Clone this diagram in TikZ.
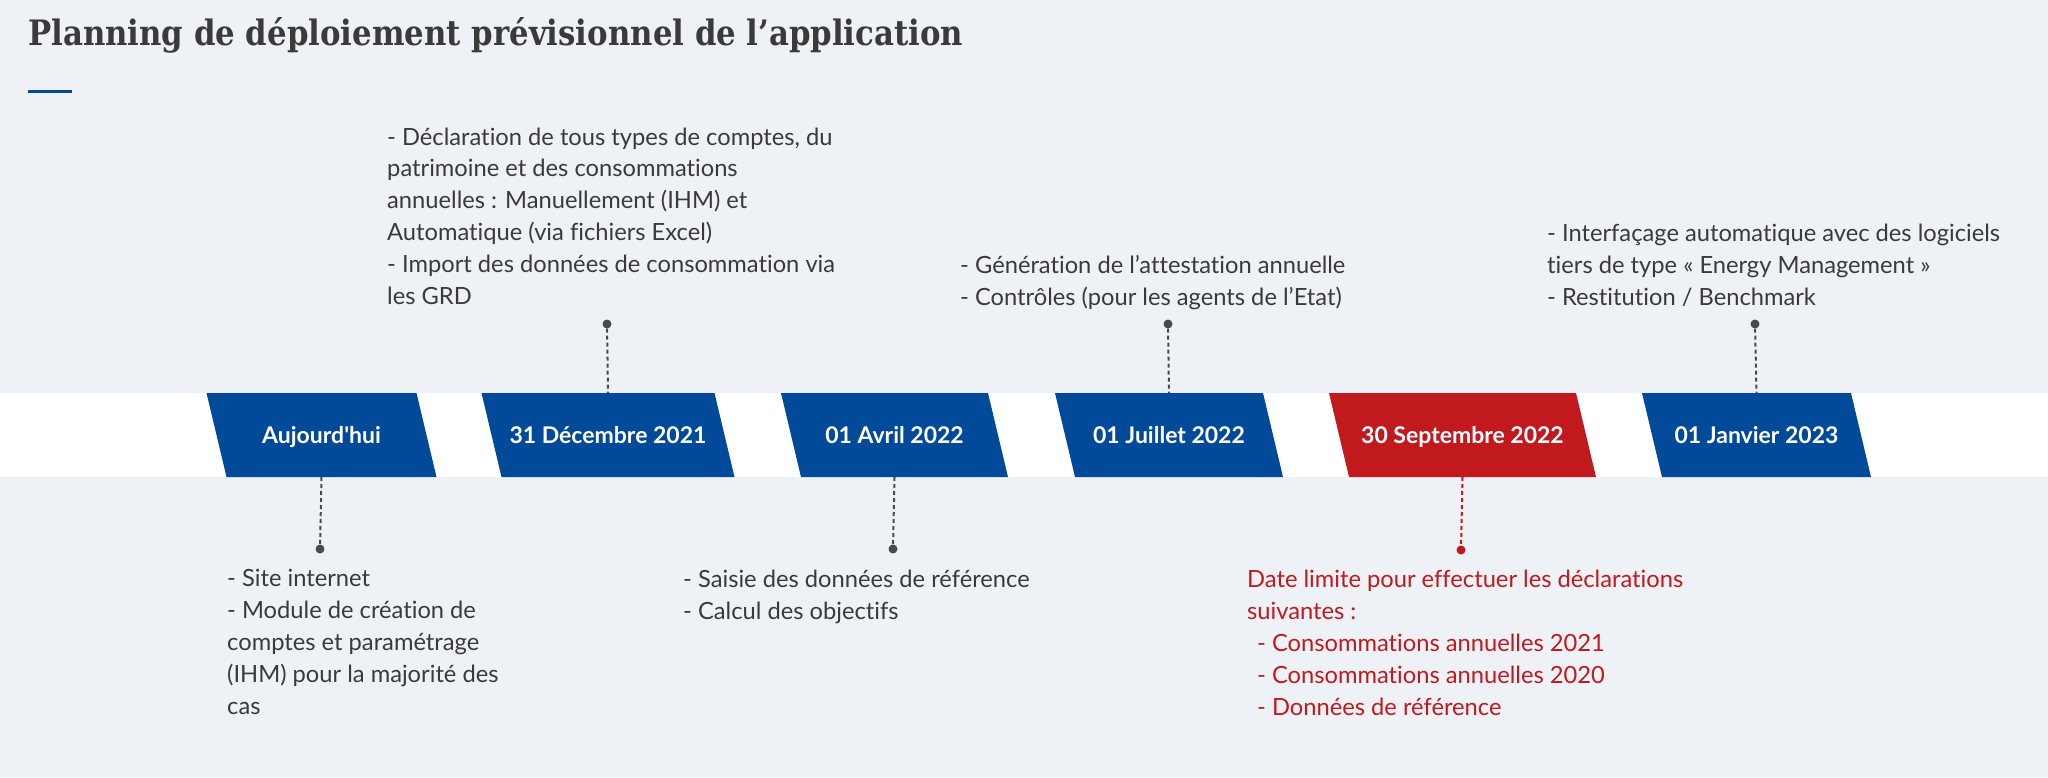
\documentclass[tikz,border=0pt]{standalone}
\usepackage{fontspec}
\setmainfont{Lato}[Ligatures=NoCommon]
\newfontfamily\titlefont[FakeStretch=0.88]{DejaVu Serif}
\definecolor{bgcol}{HTML}{EEF2F6}
\definecolor{fblue}{HTML}{004A99}
\definecolor{fred}{HTML}{C1191D}
\definecolor{tgray}{HTML}{3A3A3A}
\definecolor{dgray}{HTML}{4A4A4A}
\begin{document}
\begin{tikzpicture}[x=1pt,y=-1pt,
  txt/.style={font=\fontsize{23.7}{31.8}\selectfont, text=tgray, align=left, inner sep=0, anchor=base west},
  datelabel/.style={font=\fontsize{23}{28}\selectfont\bfseries, text=white, inner sep=0, anchor=base},
  dot/.style={circle, fill=dgray, inner sep=0, minimum size=9},
  conn/.style={dgray, line width=2, dash pattern=on 4 off 3}]
\useasboundingbox (0,0) rectangle (2048,777);
\fill[bgcol] (0,0) rectangle (2048,777);
\fill[white] (0,393) rectangle (2048,477);
% title
\node[anchor=base west, inner sep=0, text=tgray, font=\titlefont\fontsize{35}{40}\selectfont\bfseries] (title) at (28,45) {Planning de déploiement prévisionnel de l’application};
\draw[fblue, line width=3] (28,91) -- (72,91);
% milestones
\foreach \n/\cx/\w/\col/\lbl in {
  m1/321.5/210/fblue/Aujourd\textquotesingle hui,
  m2/608/233/fblue/31 Décembre 2021,
  m3/894.5/207/fblue/01 Avril 2022,
  m4/1169/208/fblue/01 Juillet 2022,
  m5/1462.5/247/fred/30 Septembre 2022,
  m6/1756.5/209/fblue/01 Janvier 2023}{
  \fill[\col] (\cx-\w/2-10,393) -- (\cx+\w/2-10,393) -- (\cx+\w/2+10,477) -- (\cx-\w/2+10,477) -- cycle;
  \node[datelabel] (\n) at (\cx,443) {\lbl};
  \coordinate (\n-t) at (\cx,393);
  \coordinate (\n-b) at (\cx,477);
}
% dots
\node[dot] (p1) at (320,549) {};
\node[dot] (p2) at (607,324) {};
\node[dot] (p3) at (893,549) {};
\node[dot] (p4) at (1168,324) {};
\node[dot, fill=fred] (p5) at (1461,550) {};
\node[dot] (p6) at (1755,324) {};
\draw[conn] (m1-b) -- (p1);
\draw[conn] (p2) -- (m2-t);
\draw[conn] (m3-b) -- (p3);
\draw[conn] (p4) -- (m4-t);
\draw[conn, fred] (m5-b) -- (p5);
\draw[conn] (p6) -- (m6-t);
% texts (anchored at the baseline of their last line)
\node[txt] (t2) at (387,304) {- Déclaration de tous types de comptes, du\\patrimoine et des consommations\\annuelles : Manuellement (IHM) et\\Automatique (via fichiers Excel)\\- Import des données de consommation via\\les GRD};
\node[txt] (t4) at (960,305) {- Génération de l’attestation annuelle\\- Contrôles (pour les agents de l’Etat)};
\node[txt] (t6) at (1547,305) {- Interfaçage automatique avec des logiciels\\tiers de type « Energy Management »\\- Restitution / Benchmark};
\node[txt] (t1) at (227,714) {- Site internet\\- Module de création de\\comptes et paramétrage\\(IHM) pour la majorité des\\cas};
\node[txt] (t3) at (683,619) {- Saisie des données de référence\\- Calcul des objectifs};
\node[txt, text=fred] (t5) at (1247,715) {Date limite pour effectuer les déclarations\\suivantes :\\\hspace*{10pt}- Consommations annuelles 2021\\\hspace*{10pt}- Consommations annuelles 2020\\\hspace*{10pt}- Données de référence};
\end{tikzpicture}
\end{document}
